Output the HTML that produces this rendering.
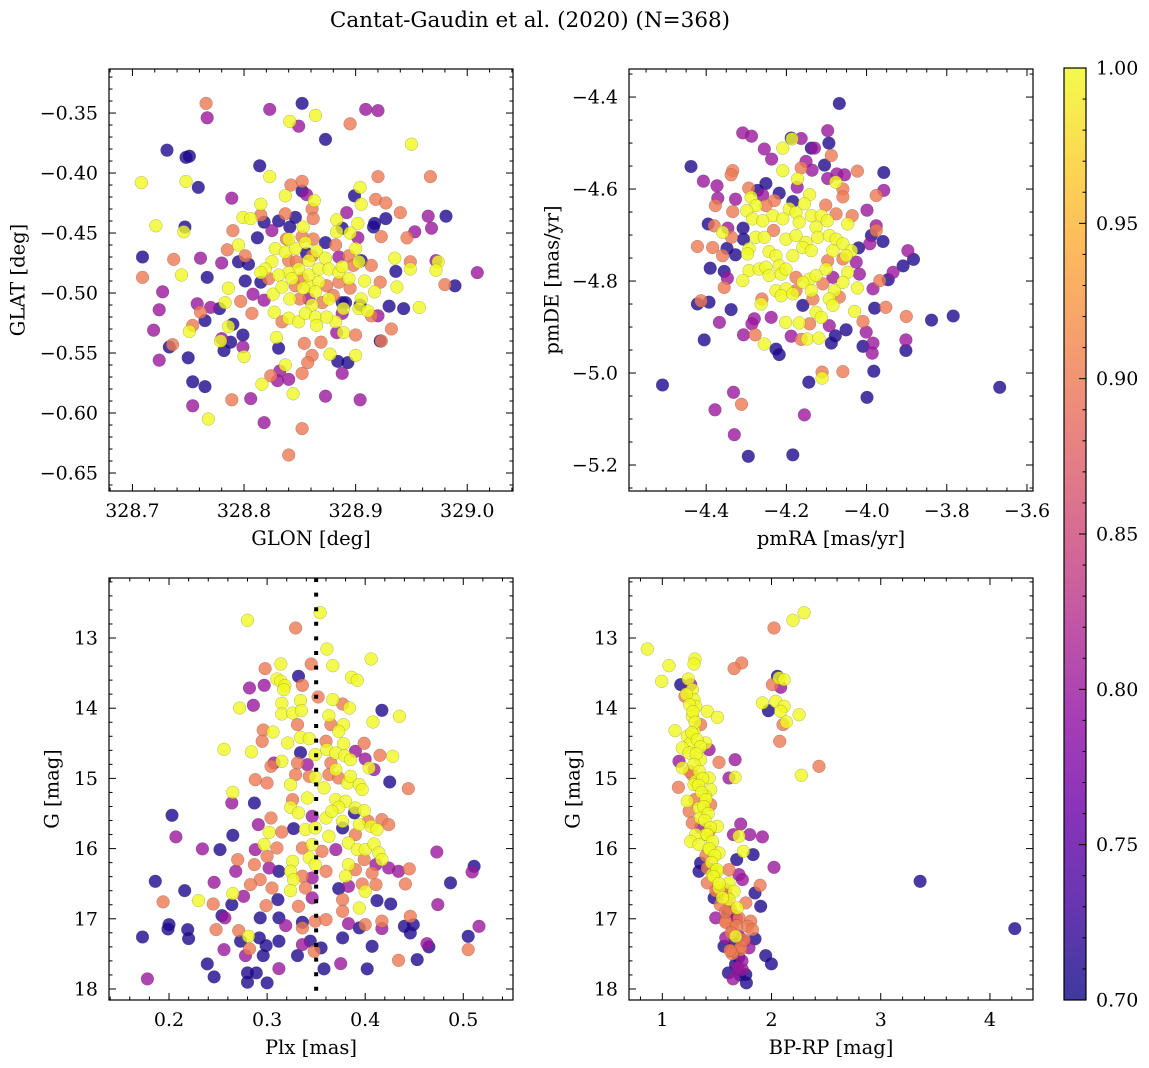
<!DOCTYPE html>
<html><head><meta charset="utf-8"><title>Cantat-Gaudin et al. (2020)</title>
<style>
html,body{margin:0;padding:0;background:#fff;}
svg{display:block;font-family:"DejaVu Serif","Liberation Serif",serif;}
</style></head>
<body>
<svg id="fig" width="1149" height="1068" viewBox="0 0 1149 1068" xmlns="http://www.w3.org/2000/svg">
<rect width="1149" height="1068" fill="#fff"/>
<text x="530" y="27" font-size="21.5" text-anchor="middle">Cantat-Gaudin et al. (2020) (N=368)</text>
</svg>
<script>
// ===== Panel 1: GLON / GLAT =====
const p1Lon=[328.766,328.767,328.823,328.852,328.841,328.849,328.864,328.873,328.895,328.909,
328.920,328.950,328.731,328.748,328.751,328.708,328.748,328.759,328.814,328.823,
328.852,328.842,328.920,328.967,328.904,328.789,328.815,328.837,328.852,328.856,
328.863,328.899,328.918,328.927,328.905,328.940,328.965,328.981,328.721,328.747,
328.746,328.790,328.812,328.799,328.806,328.815,328.818,328.831,328.837,328.846,
328.853,328.861,328.862,328.841,328.825,328.883,328.888,328.892,328.902,328.917,
328.927,328.916,328.883,328.895,328.902,328.923,328.946,328.953,328.968,328.709,
328.737,328.761,328.780,328.785,328.795,328.801,328.795,328.804,328.709,328.744,
328.767,328.801,328.815,328.727,328.786,328.783,328.797,328.808,328.818,328.826,
328.724,328.758,328.761,328.770,328.778,328.765,328.807,328.827,328.834,328.840,
328.849,328.719,328.751,328.754,328.786,328.790,328.799,328.780,328.779,328.788,
328.799,328.800,328.733,328.736,328.750,328.724,328.782,328.829,328.831,328.854,
328.869,328.861,328.877,328.884,328.893,328.900,328.900,328.888,328.889,328.883,
328.922,328.923,328.932,328.857,328.852,328.837,328.832,328.824,328.830,328.840,
328.816,328.754,328.765,328.844,328.789,328.806,328.873,328.904,328.754,328.768,
328.818,328.852,328.840,328.935,328.936,328.949,328.949,328.972,328.974,328.972,
328.980,328.989,329.009,328.937,328.930,328.943,328.957,328.922,328.914,328.917,
328.905,328.908,328.903,328.914,328.911,328.920,328.882,328.889,328.888,328.904,
328.888,328.828,328.837,328.846,328.855,328.865,328.873,328.858,328.849,328.840,
328.831,328.825,328.819,328.815,328.834,328.841,328.850,328.858,328.867,328.858,
328.867,328.876,328.885,328.888,328.894,328.895,328.885,328.876,328.870,328.861,
328.855,328.864,328.874,328.865,328.853,328.846,328.840,328.847,328.838,328.840,
328.852,328.862,328.873,328.882,328.885,328.894,328.900,328.905,328.903,328.898,
328.856,328.861,328.852,328.843,328.822,328.864,328.858,328.874,328.880,328.891];
const p1Lat=[-0.342,-0.354,-0.347,-0.342,-0.357,-0.361,-0.352,-0.372,-0.359,-0.347,
-0.348,-0.376,-0.381,-0.387,-0.386,-0.408,-0.407,-0.412,-0.394,-0.403,
-0.407,-0.410,-0.403,-0.403,-0.412,-0.421,-0.426,-0.419,-0.415,-0.418,
-0.423,-0.419,-0.422,-0.425,-0.426,-0.433,-0.436,-0.436,-0.444,-0.445,
-0.449,-0.448,-0.454,-0.437,-0.438,-0.435,-0.441,-0.440,-0.434,-0.437,
-0.445,-0.430,-0.438,-0.445,-0.448,-0.439,-0.446,-0.433,-0.442,-0.442,
-0.438,-0.445,-0.449,-0.450,-0.454,-0.453,-0.454,-0.449,-0.446,-0.470,
-0.472,-0.471,-0.475,-0.464,-0.460,-0.469,-0.474,-0.476,-0.487,-0.485,
-0.487,-0.490,-0.491,-0.499,-0.496,-0.508,-0.507,-0.501,-0.506,-0.501,
-0.514,-0.509,-0.516,-0.512,-0.513,-0.523,-0.517,-0.516,-0.524,-0.521,
-0.524,-0.531,-0.532,-0.527,-0.528,-0.526,-0.535,-0.538,-0.540,-0.541,
-0.545,-0.553,-0.545,-0.543,-0.554,-0.556,-0.548,-0.537,-0.546,-0.542,
-0.541,-0.552,-0.551,-0.557,-0.558,-0.552,-0.535,-0.567,-0.533,-0.533,
-0.540,-0.540,-0.530,-0.558,-0.567,-0.560,-0.565,-0.569,-0.573,-0.572,
-0.576,-0.574,-0.578,-0.584,-0.589,-0.588,-0.586,-0.589,-0.594,-0.605,
-0.608,-0.613,-0.635,-0.471,-0.482,-0.474,-0.480,-0.473,-0.474,-0.481,
-0.493,-0.494,-0.483,-0.495,-0.511,-0.513,-0.512,-0.491,-0.477,-0.499,
-0.505,-0.490,-0.513,-0.519,-0.515,-0.519,-0.524,-0.513,-0.508,-0.510,
-0.517,-0.463,-0.466,-0.463,-0.458,-0.465,-0.471,-0.473,-0.480,-0.483,
-0.485,-0.474,-0.480,-0.483,-0.495,-0.505,-0.505,-0.494,-0.491,-0.485,
-0.480,-0.480,-0.483,-0.478,-0.488,-0.496,-0.491,-0.505,-0.508,-0.510,
-0.517,-0.520,-0.520,-0.527,-0.496,-0.494,-0.473,-0.474,-0.455,-0.455,
-0.453,-0.455,-0.458,-0.460,-0.470,-0.469,-0.463,-0.473,-0.474,-0.477,
-0.467,-0.469,-0.488,-0.488,-0.488,-0.499,-0.505,-0.494,-0.502,-0.508];
const p1Prob=[.9,.8,.8,.71,1,.8,1,.71,.9,.8,
.8,1,.71,.71,.71,1,1,.71,.71,1,
.9,.9,.9,.9,1,.8,1,1,.71,.8,
1,.71,.9,.9,1,.9,.8,.71,1,.71,
1,.9,.71,1,1,.9,.71,.71,.9,.71,
1,.9,.9,.71,.8,1,.71,.8,1,.71,
.71,.71,1,1,.8,.9,.9,.8,.8,.71,
.9,.8,.8,.9,1,.9,.71,.71,.9,1,
.71,.71,.71,.8,1,1,.9,.8,.8,1,
.8,.8,.9,.8,.71,.71,.9,1,.9,1,
1,.8,1,.9,1,.71,.71,.8,1,.71,
.8,1,.71,.9,.71,.8,.71,1,.71,.9,
.9,.9,1,.71,.71,1,.9,.8,1,.8,
.71,.9,.9,.9,.9,1,.8,.9,.8,.8,
1,.71,.71,1,.9,.8,.8,.8,.8,1,
.8,.9,.9,1,.71,.9,1,.8,1,1,
.9,.71,.8,1,.71,.71,1,.9,.9,1,
1,1,1,.9,1,.8,1,1,.71,.71,
.8,1,1,1,1,1,1,1,1,1,
1,1,1,1,1,1,.9,1,1,1,
1,1,1,1,1,.9,.9,1,.9,1,
1,1,1,1,1,.9,.9,.9,.9,1,
.9,.9,.71,.9,.8,.9,1,.71,1,.9,
.71,.9,.9,1,.9,1,.8,.9,.9,.71];
const p1XTicks=[328.7,328.8,328.9,329.0];
const p1XLabels=["328.7","328.8","328.9","329.0"];
const p1YTicks=[-0.35,-0.40,-0.45,-0.50,-0.55,-0.60,-0.65];
const p1YLabels=["−0.35","−0.40","−0.45","−0.50","−0.55","−0.60","−0.65"];

// ===== Panel 2: pmRA / pmDE =====
const p2RA=[-4.068,-4.309,-4.287,-4.186,-4.188,-4.163,-4.097,-4.094,-4.209,-4.138,
-4.130,-4.255,-4.237,-4.088,-4.438,-4.334,-4.338,-4.209,-4.163,-4.136,
-4.105,-4.151,-4.023,-3.957,-4.407,-4.373,-4.251,-4.172,-4.173,-4.097,
-4.074,-4.055,-4.077,-4.059,-4.294,-4.272,-4.218,-4.259,-4.288,-4.142,
-4.327,-4.371,-4.377,-4.059,-3.976,-3.957,-4.230,-4.184,-4.276,-4.299,
-4.251,-4.102,-4.334,-4.076,-4.036,-3.999,-4.193,-4.176,-4.155,-4.234,
-4.138,-4.113,-4.284,-4.209,-4.259,-4.395,-4.380,-4.346,-4.308,-4.359,
-4.232,-4.168,-4.126,-4.098,-4.047,-3.976,-3.976,-4.337,-4.307,-4.276,
-4.255,-4.201,-4.176,-4.151,-4.122,-4.093,-4.076,-4.059,-4.038,-4.020,
-3.988,-3.959,-3.992,-4.422,-4.384,-4.348,-4.359,-4.327,-4.293,-4.297,
-4.243,-4.226,-4.184,-4.159,-4.138,-4.084,-4.051,-4.097,-4.059,-4.026,
-3.897,-3.883,-3.909,-4.390,-4.355,-4.347,-4.355,-4.293,-4.309,-4.268,
-4.251,-4.218,-4.243,-4.213,-4.201,-4.176,-4.142,-4.159,-4.126,-4.101,
-4.084,-4.047,-4.018,-3.984,-3.967,-3.934,-3.946,-4.226,-4.201,-4.176,
-4.138,-4.109,-4.080,-4.059,-4.023,-4.422,-4.413,-4.393,-4.338,-4.261,
-4.263,-4.213,-4.184,-4.159,-4.134,-4.093,-4.068,-4.084,-4.126,-4.113,
-4.030,-3.980,-3.952,-4.367,-4.280,-4.286,-4.238,-4.202,-4.168,-4.142,
-4.093,-4.051,-4.009,-4.001,-3.901,-3.838,-3.784,-4.405,-4.307,-4.278,
-4.255,-4.226,-4.218,-4.188,-4.163,-4.148,-4.119,-4.088,-4.078,-4.009,
-3.984,-3.986,-3.902,-3.902,-4.111,-4.111,-4.059,-4.144,-3.982,-3.999,
-4.509,-4.332,-4.312,-4.378,-4.155,-4.330,-4.295,-4.184,-3.668];
const p2DE=[-4.414,-4.478,-4.485,-4.491,-4.489,-4.490,-4.473,-4.500,-4.511,-4.511,
-4.511,-4.513,-4.535,-4.527,-4.551,-4.560,-4.569,-4.560,-4.554,-4.559,
-4.548,-4.540,-4.561,-4.564,-4.583,-4.593,-4.588,-4.578,-4.596,-4.577,
-4.567,-4.569,-4.585,-4.600,-4.598,-4.603,-4.609,-4.613,-4.618,-4.612,
-4.622,-4.620,-4.636,-4.617,-4.614,-4.603,-4.625,-4.627,-4.636,-4.647,
-4.636,-4.635,-4.649,-4.654,-4.658,-4.646,-4.643,-4.651,-4.632,-4.658,
-4.658,-4.658,-4.665,-4.665,-4.669,-4.676,-4.680,-4.685,-4.685,-4.694,
-4.690,-4.672,-4.683,-4.669,-4.676,-4.680,-4.690,-4.705,-4.709,-4.705,
-4.705,-4.709,-4.701,-4.716,-4.705,-4.701,-4.709,-4.719,-4.734,-4.728,
-4.701,-4.714,-4.719,-4.725,-4.727,-4.729,-4.745,-4.743,-4.730,-4.741,
-4.736,-4.745,-4.745,-4.727,-4.734,-4.734,-4.745,-4.756,-4.752,-4.759,
-4.734,-4.753,-4.767,-4.772,-4.779,-4.794,-4.814,-4.777,-4.799,-4.774,
-4.770,-4.767,-4.788,-4.785,-4.774,-4.792,-4.796,-4.803,-4.788,-4.774,
-4.792,-4.781,-4.785,-4.817,-4.799,-4.781,-4.797,-4.821,-4.817,-4.821,
-4.821,-4.806,-4.821,-4.803,-4.815,-4.850,-4.843,-4.846,-4.862,-4.839,
-4.850,-4.832,-4.828,-4.853,-4.839,-4.839,-4.835,-4.853,-4.868,-4.879,
-4.866,-4.859,-4.857,-4.890,-4.882,-4.893,-4.879,-4.890,-4.891,-4.893,
-4.897,-4.906,-4.888,-4.911,-4.877,-4.885,-4.876,-4.928,-4.917,-4.917,
-4.937,-4.948,-4.960,-4.920,-4.927,-4.926,-4.924,-4.935,-4.919,-4.942,
-4.935,-4.957,-4.928,-4.951,-4.998,-5.011,-4.997,-5.020,-4.996,-5.053,
-5.026,-5.042,-5.068,-5.080,-5.091,-5.134,-5.181,-5.178,-5.031];
const p2Prob=[.71,.8,.8,1,.71,.8,.8,.71,1,.71,
.8,.8,.8,.9,.71,.9,.9,1,.9,.8,
.71,.8,.9,.71,.8,.8,.71,1,.8,.8,
.8,.8,1,.9,.9,.71,.71,.8,1,1,
.8,.8,.9,.9,.9,.8,.9,.71,1,1,
.9,.9,.9,.9,.9,.8,1,1,1,1,
1,1,1,1,1,.71,.9,.8,.71,1,
.9,1,1,1,1,.8,.9,.9,.71,1,
1,1,1,1,1,1,1,1,1,.71,
.71,.71,.8,.9,.9,.71,.9,.71,1,1,
1,1,1,1,1,1,1,.9,.9,.8,
.8,.71,.71,.71,.71,.8,.9,1,1,1,
1,1,1,1,1,.9,1,1,1,1,
.8,1,.8,.8,.9,.8,.71,1,1,.9,
1,.9,1,1,1,.71,.9,.71,.71,.9,
1,1,1,.71,.9,1,.9,1,1,1,
1,.71,.9,.8,.8,.8,.8,1,1,.9,
.8,.71,.9,.8,.9,.71,.71,.71,.8,.9,
1,.71,.71,.8,.9,1,1,.71,.71,.71,
.8,.8,.8,.71,.9,1,.9,.71,.71,.71,
.71,.8,.9,.8,.8,.8,.71,.71,.71];
const p2XTicks=[-4.4,-4.2,-4.0,-3.8,-3.6];
const p2XLabels=["−4.4","−4.2","−4.0","−3.8","−3.6"];
const p2YTicks=[-4.4,-4.6,-4.8,-5.0,-5.2];
const p2YLabels=["−4.4","−4.6","−4.8","−5.0","−5.2"];

// ===== Panel 3: Plx / G =====
const p3Plx=[.354,.280,.329,.361,.406,.345,.314,.367,.298,.332,
.310,.314,.318,.336,.317,.282,.297,.386,.392,.352,
.367,.377,.384,.334,.315,.272,.286,.315,.326,.335,
.363,.365,.417,.408,.435,.331,.378,.373,.296,.306,
.295,.321,.334,.343,.360,.378,.399,.256,.284,.334,
.349,.361,.370,.379,.385,.390,.400,.415,.428,.307,
.315,.304,.331,.341,.365,.370,.404,.409,.288,.300,
.324,.329,.343,.349,.358,.363,.373,.382,.385,.394,
.397,.425,.444,.265,.264,.287,.326,.341,.370,.380,
.373,.390,.399,.324,.332,.346,.360,.366,.377,.389,
.403,.417,.424,.394,.406,.203,.304,.291,.327,.315,
.302,.339,.349,.363,.377,.390,.412,.207,.265,.234,
.252,.297,.310,.288,.336,.346,.356,.370,.383,.392,
.400,.409,.414,.473,.270,.300,.326,.343,.349,.383,
.399,.411,.417,.268,.287,.302,.312,.324,.327,.336,
.346,.360,.380,.390,.407,.424,.434,.445,.511,.509,
.186,.246,.293,.305,.283,.324,.339,.373,.383,.400,
.397,.411,.441,.487,.216,.265,.276,.194,.230,.245,
.264,.299,.311,.332,.346,.377,.394,.412,.426,.474,
.254,.257,.293,.312,.319,.336,.336,.349,.360,.377,
.383,.394,.400,.417,.417,.440,.446,.449,.465,.463,
.200,.199,.219,.220,.173,.248,.271,.281,.273,.282,
.292,.299,.312,.336,.344,.348,.355,.377,.407,.446,
.505,.516,.505,.256,.278,.296,.331,.239,.280,.289,
.312,.358,.375,.402,.434,.453,.178,.246,.280,.300];
const p3G=[12.639,12.748,12.857,13.156,13.299,13.370,13.370,13.394,13.436,13.546,
13.584,13.617,13.679,13.674,13.736,13.712,13.674,13.560,13.603,13.840,
13.878,13.940,13.997,13.892,13.930,13.997,13.959,14.082,14.068,14.035,
14.106,14.234,14.030,14.196,14.115,14.234,14.234,14.329,14.310,14.339,
14.472,14.495,14.415,14.434,14.472,14.505,14.500,14.585,14.623,14.633,
14.661,14.590,14.638,14.676,14.733,14.614,14.723,14.671,14.685,14.780,
14.756,14.828,14.780,14.804,14.780,14.875,14.851,14.875,15.018,15.065,
15.089,14.946,14.970,14.984,15.136,14.946,14.994,15.065,14.970,15.089,
15.160,15.051,15.146,15.198,15.350,15.350,15.302,15.279,15.302,15.326,
15.412,15.421,15.459,15.412,15.492,15.540,15.564,15.469,15.611,15.492,
15.611,15.587,15.658,15.658,15.682,15.526,15.564,15.658,15.715,15.763,
15.768,15.730,15.706,15.825,15.706,15.801,15.730,15.834,15.810,16.005,
16.015,15.943,15.991,16.015,15.991,15.943,16.038,16.015,15.920,16.015,
16.015,15.934,16.062,16.048,16.157,16.110,16.181,16.133,16.228,16.228,
16.157,16.228,16.157,16.323,16.228,16.276,16.323,16.323,16.442,16.394,
16.418,16.323,16.394,16.300,16.347,16.276,16.323,16.290,16.252,16.333,
16.466,16.480,16.442,16.561,16.513,16.599,16.561,16.570,16.537,16.608,
16.504,16.513,16.504,16.489,16.599,16.641,16.679,16.760,16.741,16.789,
16.798,16.812,16.727,16.822,16.703,16.727,16.846,16.741,16.789,16.798,
16.955,16.988,16.988,16.988,17.097,17.050,17.130,17.035,17.012,16.893,
17.069,17.130,17.083,17.035,17.140,17.107,16.964,17.083,17.401,17.354,
17.083,17.145,17.154,17.282,17.259,17.154,17.168,17.249,17.320,17.429,
17.273,17.382,17.320,17.368,17.320,17.463,17.415,17.273,17.392,17.202,
17.249,17.107,17.439,17.439,17.525,17.525,17.525,17.643,17.771,17.771,
17.710,17.714,17.639,17.714,17.591,17.581,17.857,17.828,17.904,17.914];
const p3Prob=[1,1,.9,1,1,.9,1,1,.9,.71,
1,1,1,.9,1,.8,.8,1,1,.9,
1,.9,1,1,1,1,.8,1,1,1,
1,.9,.71,1,1,.9,1,1,.9,1,
.9,1,1,1,.9,1,.9,1,1,.71,
1,1,1,1,1,.8,.8,.9,1,.8,
1,.9,.9,.8,.9,1,1,.8,.9,.9,
1,.9,.9,1,1,.9,.9,1,1,1,
1,.71,.9,1,.8,.71,.9,1,1,1,
1,1,1,1,1,.8,1,1,1,.71,
.9,.9,.9,1,1,.71,.9,.8,.71,.9,
1,1,1,1,.71,.9,1,.8,.71,.8,
.71,1,.9,.8,.9,1,.9,.8,1,1,
1,1,1,.8,.9,.9,1,1,1,1,
.9,.8,1,.8,.9,.8,.71,1,1,.9,
.8,.9,1,.9,.9,.8,.8,.9,.71,.8,
.71,.8,.9,.9,.9,1,.9,.71,.8,1,
.9,.9,.9,.71,.71,1,.8,.9,1,.9,
.71,.9,.71,.9,.8,.9,1,.71,.71,.8,
.71,.8,.71,.71,.8,.71,.9,.9,.9,.9,
.8,.71,.9,.9,.8,.71,.9,.71,.71,.8,
.71,.71,.71,.71,.71,.9,.9,1,.71,.9,
.71,.71,.71,.8,.71,.9,.71,.71,.71,.71,
.71,.8,.9,.8,.8,.71,.71,.71,.71,.71,
.8,.71,.8,.71,.9,.71,.8,.71,.71,.71];
const p3XTicks=[0.2,0.3,0.4,0.5];
const p3XLabels=["0.2","0.3","0.4","0.5"];
const gTicks=[13,14,15,16,17,18];
const gLabels=["13","14","15","16","17","18"];
const plxRef=[0.35];

// ===== Panel 4: BP-RP / G =====
const p4Col=[2.298,2.197,2.023,0.863,1.061,1.299,1.290,1.727,1.657,0.994,
1.168,1.238,1.260,1.275,1.208,1.290,1.306,2.054,2.069,2.115,
2.008,2.084,1.916,1.971,2.038,2.115,2.084,2.252,2.136,2.105,
2.075,1.412,1.504,1.275,1.351,1.116,1.290,1.229,1.260,1.397,
1.428,1.183,1.245,1.153,1.351,1.183,1.519,1.666,1.611,1.666,
2.435,2.273,1.275,1.306,1.428,1.147,1.443,1.290,1.397,1.229,
1.336,1.245,1.443,1.351,1.275,1.504,1.428,1.397,1.306,1.260,
1.336,1.428,1.519,1.718,1.651,1.702,1.800,1.916,1.742,1.831,
1.681,2.023,1.351,1.336,1.412,1.458,1.504,1.611,1.702,1.412,
1.519,1.611,1.580,1.657,1.733,1.895,1.849,1.474,1.611,1.687,
1.764,1.901,1.489,1.580,1.702,1.809,1.641,1.779,1.825,1.580,
1.672,1.748,1.849,1.565,1.641,1.718,1.794,1.947,1.999,1.605,
1.648,1.733,1.764,1.770,3.360,4.227,
1.55,1.60,1.62,1.65,1.58,1.68,1.63,1.70,1.66,1.72,
1.60,1.68,1.75,1.64,1.70,1.73,1.62,1.67,1.71,1.69,
1.25,1.30,1.35,1.40,1.45,1.50,
1.22,1.25,1.28,1.30,1.27,1.32,1.35,1.31,1.29,1.34,
1.37,1.33,1.36,1.40,1.38,1.42,1.39,1.44,1.41,1.46,
1.43,1.48,1.45,1.50,1.47,1.52,1.49,1.55,1.53,1.58];
const p4G=[12.639,12.748,12.857,13.156,13.394,13.299,13.370,13.356,13.436,13.617,
13.664,13.584,13.664,13.736,13.831,13.878,13.973,13.546,13.570,13.593,
13.664,13.702,13.925,14.035,13.902,13.973,14.044,14.092,14.196,14.234,
14.472,14.044,14.130,14.115,14.234,14.320,14.329,14.400,14.495,14.495,
14.590,14.566,14.638,14.756,14.733,14.851,14.771,14.733,14.994,14.984,
14.828,14.956,14.946,15.041,14.994,15.127,15.160,15.089,15.255,15.326,
15.421,15.469,15.374,15.564,15.635,15.682,15.753,15.801,15.801,15.896,
15.943,16.015,16.062,15.649,15.801,15.825,15.801,15.834,16.038,16.086,
16.157,16.266,16.205,16.323,16.276,16.371,16.323,16.300,16.371,16.489,
16.561,16.489,16.584,16.608,16.442,16.523,16.632,16.703,16.727,16.846,
16.774,16.822,16.988,17.035,16.988,17.035,17.130,17.107,17.154,17.273,
17.249,17.320,17.287,17.392,17.463,17.439,17.415,17.525,17.643,17.771,
17.857,17.724,17.795,17.914,16.466,17.140,
16.60,16.70,16.85,16.95,17.05,17.10,17.20,17.25,17.35,17.40,
16.90,17.00,17.30,17.50,17.55,17.60,17.45,17.65,17.80,17.70,
14.90,15.30,15.70,16.10,16.30,16.60,
13.80,13.95,14.05,14.20,14.35,14.45,14.55,14.65,14.80,14.90,
15.00,15.10,15.20,15.30,15.40,15.50,15.60,15.70,15.80,15.90,
16.00,16.10,16.20,16.30,16.40,16.50,16.60,16.70,16.80,16.90];
const p4Prob=[1,1,.9,1,1,1,1,.9,.9,1,
.71,1,.8,1,.9,1,1,.71,1,1,
.9,.8,1,.71,1,1,1,1,1,.9,
.9,1,1,1,.9,1,1,1,1,1,
.8,1,1,.8,1,1,.9,.8,.8,1,
.9,1,.9,1,1,.9,1,1,1,1,
1,.9,.9,1,.9,1,.9,1,1,1,
1,1,1,.8,.8,1,.8,.8,1,.71,
.71,.8,.71,.71,.9,1,1,.9,.8,.9,
1,1,.9,1,.8,.9,.71,.71,1,1,
.9,.71,.8,.9,.9,.9,.9,.9,.9,.8,
1,.8,.71,.71,.9,.9,.8,.71,.71,.71,
.8,.8,.71,.71,.71,.71,
.9,.9,.9,.8,.9,.9,.9,.8,.71,.9,
.71,.8,.9,.9,.71,.8,.9,.71,.71,.8,
.9,.9,.8,.9,.71,.9,
1,1,1,1,1,1,1,1,1,1,
1,1,1,1,1,1,1,1,1,1,
1,1,1,1,1,1,.9,1,.9,.9];
const p4XTicks=[1,2,3,4];
const p4XLabels=["1","2","3","4"];

// ===== Colorbar =====
const cbTicks=[0.70,0.75,0.80,0.85,0.90,0.95,1.00];
const cbLabels=["0.70","0.75","0.80","0.85","0.90","0.95","1.00"];
const cbMin=0.70, cbMax=1.00;

const NS="http://www.w3.org/2000/svg";
const svg=document.getElementById('fig');
function el(tag,attrs,parent){const e=document.createElementNS(NS,tag);for(const k in attrs)e.setAttribute(k,attrs[k]);(parent||svg).appendChild(e);return e;}

const plasmaStops=["#0d0887","#41049d","#6a00a8","#8f0da4","#b12a90","#cc4778","#e16462","#f2844b","#fca636","#fcce25","#f0f921"];
function hex2rgb(h){return [parseInt(h.substr(1,2),16),parseInt(h.substr(3,2),16),parseInt(h.substr(5,2),16)];}
function plasma(t){t=Math.max(0,Math.min(1,t));const s=t*10;const i=Math.min(9,Math.floor(s));const f=s-i;
const a=hex2rgb(plasmaStops[i]),b=hex2rgb(plasmaStops[i+1]);
return "rgb("+a.map((v,k)=>Math.round(v+(b[k]-v)*f)).join(",")+")";}
function probColor(p){return plasma((p-cbMin)/(cbMax-cbMin));}

const TICK_FS=19, LABEL_FS=19.5;

function drawPanel(cfg){
  const g=el('g',{});
  
  
  const sx=v=>cfg.x0+(v-cfg.xmin)/(cfg.xmax-cfg.xmin)*cfg.w;
  const sy=v=>cfg.y0+(v-cfg.yTop)/(cfg.yBot-cfg.yTop)*cfg.h;
  const cid='clip-'+cfg.name;
  const cp=el('clipPath',{id:cid},g);
  el('rect',{x:cfg.x0,y:cfg.y0,width:cfg.w,height:cfg.h},cp);
  const pts=el('g',{'clip-path':'url(#'+cid+')'},g);
  
  
  const idx=cfg.xs.map((_,i)=>i).sort((a,b)=>cfg.ps[a]-cfg.ps[b]);
  idx.forEach(i=>{
    const c=el('circle',{cx:sx(cfg.xs[i]).toFixed(1),cy:sy(cfg.ys[i]).toFixed(1),r:6.4,fill:probColor(cfg.ps[i]),'fill-opacity':0.8,stroke:'#333','stroke-opacity':0.35,'stroke-width':0.5},pts);
    
    
  });
  if(cfg.vline){cfg.vline.forEach(v=>{
    const l=el('line',{x1:sx(v),x2:sx(v),y1:cfg.y0,y2:cfg.y0+cfg.h,stroke:'#000','stroke-width':4,'stroke-dasharray':'4 10.6'},pts);
    
    
  });}
  const tk=el('g',{stroke:'#000','stroke-width':1},g);
  
  
  const isMajor=(v,arr)=>arr.some(t=>Math.abs(t-v)<1e-6);
  const lo=Math.min(cfg.xmin,cfg.xmax),hi=Math.max(cfg.xmin,cfg.xmax);
  for(let v=Math.ceil(lo/cfg.xminor-1e-6)*cfg.xminor;v<=hi+1e-9;v+=cfg.xminor){
    const L=isMajor(v,cfg.xticks)?7:3.5;const x=sx(v);
    el('line',{x1:x,x2:x,y1:cfg.y0+cfg.h,y2:cfg.y0+cfg.h-L},tk);
    el('line',{x1:x,x2:x,y1:cfg.y0,y2:cfg.y0+L},tk);
  }
  const ylo=Math.min(cfg.yTop,cfg.yBot),yhi=Math.max(cfg.yTop,cfg.yBot);
  for(let v=Math.ceil(ylo/cfg.yminor-1e-6)*cfg.yminor;v<=yhi+1e-9;v+=cfg.yminor){
    const L=isMajor(v,cfg.yticks)?7:3.5;const y=sy(v);
    el('line',{x1:cfg.x0,x2:cfg.x0+L,y1:y,y2:y},tk);
    el('line',{x1:cfg.x0+cfg.w,x2:cfg.x0+cfg.w-L,y1:y,y2:y},tk);
  }
  const fr=el('rect',{x:cfg.x0,y:cfg.y0,width:cfg.w,height:cfg.h,fill:'none',stroke:'#000','stroke-width':1.2},g);
  
  
  cfg.xticks.forEach((v,i)=>{
    const t=el('text',{x:sx(v),y:cfg.y0+cfg.h+26,'font-size':TICK_FS,'text-anchor':'middle'},g);
    t.textContent=cfg.xlabels[i];
    
    
  });
  cfg.yticks.forEach((v,i)=>{
    const t=el('text',{x:cfg.x0-11,y:sy(v)+6.5,'font-size':TICK_FS,'text-anchor':'end'},g);
    t.textContent=cfg.ylabels[i];
    
    
  });
  const xl=el('text',{x:cfg.x0+cfg.w/2,y:cfg.y0+cfg.h+54,'font-size':LABEL_FS,'text-anchor':'middle'},g);
  xl.textContent=cfg.xlabel;
  
  
  const yc=cfg.y0+cfg.h/2;
  const yl=el('text',{x:cfg.ylx,y:yc,'font-size':LABEL_FS,'text-anchor':'middle','dominant-baseline':'central',transform:'rotate(-90 '+cfg.ylx+' '+yc+')'},g);
  yl.textContent=cfg.ylabel;
  
  
}

drawPanel({name:'glon-glat-panel',x0:109,y0:69,w:404,h:422,xmin:328.679,xmax:329.041,yTop:-0.3133,yBot:-0.665,
 xs:p1Lon,ys:p1Lat,ps:p1Prob,xticks:p1XTicks,xlabels:p1XLabels,yticks:p1YTicks,ylabels:p1YLabels,xminor:0.02,yminor:0.01,
 xlabel:'GLON [deg]',ylabel:'GLAT [deg]',ylx:18});
drawPanel({name:'proper-motion-panel',x0:629,y0:69,w:404,h:422,xmin:-4.5925,xmax:-3.585,yTop:-4.339,yBot:-5.2565,
 xs:p2RA,ys:p2DE,ps:p2Prob,xticks:p2XTicks,xlabels:p2XLabels,yticks:p2YTicks,ylabels:p2YLabels,xminor:0.05,yminor:0.05,
 xlabel:'pmRA [mas/yr]',ylabel:'pmDE [mas/yr]',ylx:552});
drawPanel({name:'parallax-magnitude-panel',x0:109,y0:578,w:404,h:422,xmin:0.1388,xmax:0.5507,yTop:12.145,yBot:18.157,
 xs:p3Plx,ys:p3G,ps:p3Prob,xticks:p3XTicks,xlabels:p3XLabels,yticks:gTicks,ylabels:gLabels,xminor:0.02,yminor:0.2,
 xlabel:'Plx [mas]',ylabel:'G [mag]',ylx:52,vline:plxRef});
drawPanel({name:'color-magnitude-panel',x0:629,y0:578,w:404,h:422,xmin:0.695,xmax:4.394,yTop:12.145,yBot:18.157,
 xs:p4Col,ys:p4G,ps:p4Prob,xticks:p4XTicks,xlabels:p4XLabels,yticks:gTicks,ylabels:gLabels,xminor:0.2,yminor:0.2,
 xlabel:'BP-RP [mag]',ylabel:'G [mag]',ylx:573});

(function(){
  const x0=1064,y0=68,w=22,h=932;
  const g=el('g',{});
  
  
  const defs=el('defs',{},g);
  const lg=el('linearGradient',{id:'cbgrad',x1:0,y1:1,x2:0,y2:0},defs);
  for(let i=0;i<=20;i++){const t=i/20;el('stop',{offset:t,'stop-color':plasma(t),'stop-opacity':0.8},lg);}
  el('rect',{x:x0,y:y0,width:w,height:h,fill:'url(#cbgrad)'},g);
  const sy=v=>y0+h-(v-cbMin)/(cbMax-cbMin)*h;
  const tk=el('g',{stroke:'#000','stroke-width':1},g);
  for(let v=cbMin;v<=cbMax+1e-9;v+=0.01){
    const maj=cbTicks.some(t=>Math.abs(t-v)<1e-6);
    el('line',{x1:x0+w,x2:x0+w-(maj?7:3.5),y1:sy(v),y2:sy(v)},tk);
  }
  el('rect',{x:x0,y:y0,width:w,height:h,fill:'none',stroke:'#000','stroke-width':1.2},g);
  cbTicks.forEach((v,i)=>{
    const t=el('text',{x:x0+w+10,y:sy(v)+6.5,'font-size':TICK_FS},g);
    t.textContent=cbLabels[i];
    
    
  });
})();
</script>
</body></html>
